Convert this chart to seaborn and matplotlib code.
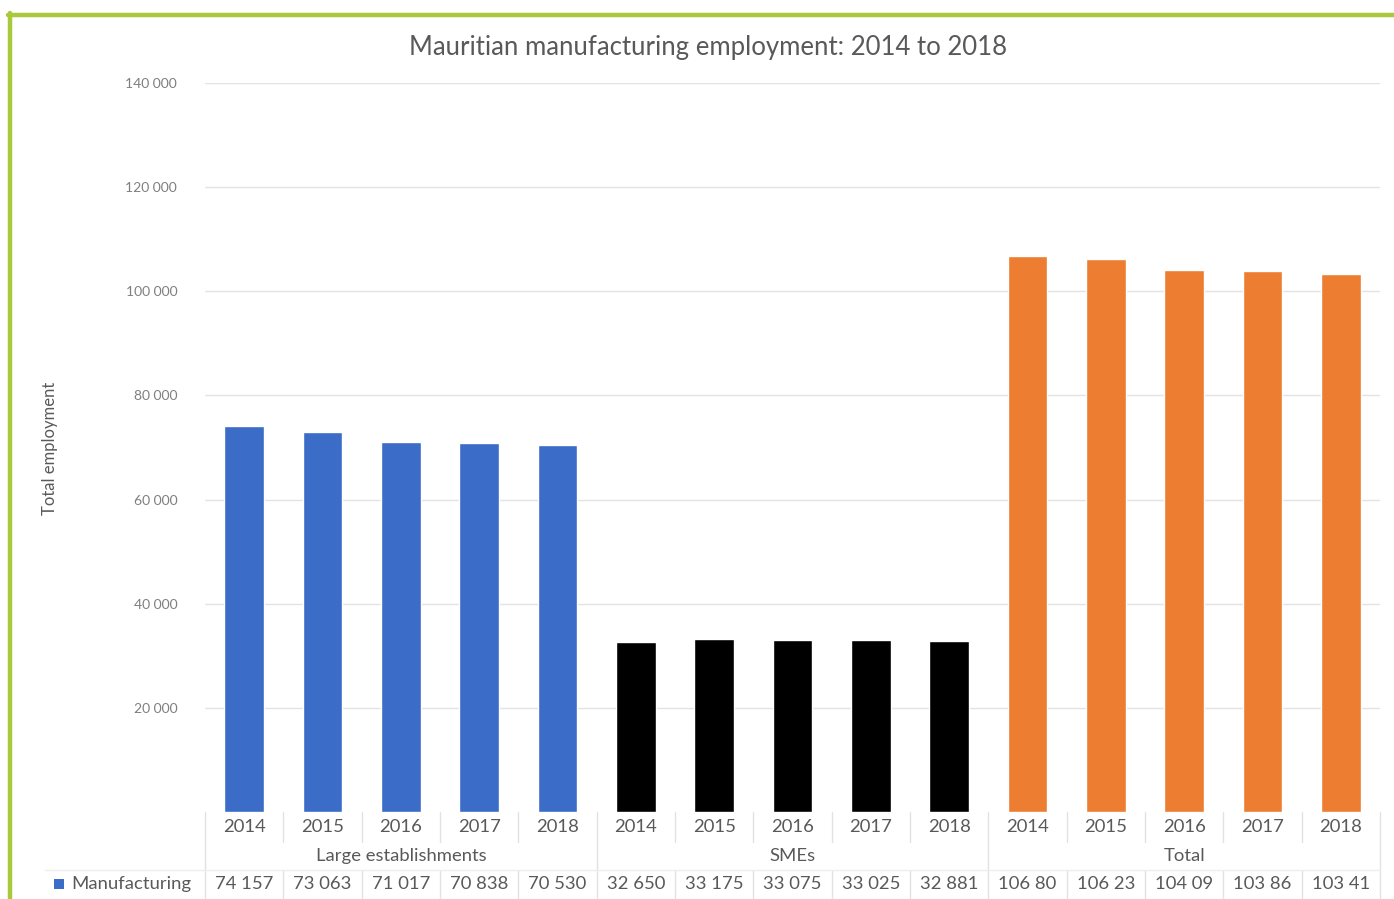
import matplotlib
matplotlib.use("Agg")
import matplotlib.pyplot as plt
import matplotlib.transforms as mtransforms
from matplotlib.lines import Line2D
from matplotlib.patches import Rectangle
import seaborn as sns
import pandas as pd

# ---------------- data ----------------
years = ["2014", "2015", "2016", "2017", "2018"]
groups = ["Large establishments", "SMEs", "Total"]
large_values = [74157, 73063, 71017, 70838, 70530]
sme_values = [32650, 33175, 33075, 33025, 32881]
total_values = [106807, 106238, 104092, 103863, 103411]
table_labels = ["74 157", "73 063", "71 017", "70 838", "70 530",
                "32 650", "33 175", "33 075", "33 025", "32 881",
                "106 80", "106 23", "104 09", "103 86", "103 41"]
series_name = "Manufacturing"
title = "Mauritian manufacturing employment: 2014 to 2018"
y_label = "Total employment"
y_ticks = [20000, 40000, 60000, 80000, 100000, 120000, 140000]
group_colors = {"Large establishments": "#3a6cc8", "SMEs": "#000000", "Total": "#ed7d31"}

rows = []
for g, vals in zip(groups, [large_values, sme_values, total_values]):
    for yr, v in zip(years, vals):
        rows.append({"key": f"{g} {yr}", "group": g, "year": yr, "value": v})
df = pd.DataFrame(rows)

# ---------------- figure ----------------
sns.set_theme(style="white")
FONT = ["Lato", "DejaVu Sans"]
plt.rcParams["font.family"] = FONT

W, H = 1394, 899
fig = plt.figure(figsize=(W / 100, H / 100), dpi=100)
fig.patch.set_facecolor("white")

ax_l, ax_r, ax_t, ax_b = 205, 1380, 83, 812
ax = fig.add_axes([ax_l / W, 1 - ax_b / H, (ax_r - ax_l) / W, (ax_b - ax_t) / H])

sns.barplot(data=df, x="key", y="value", hue="group", palette=group_colors,
            dodge=False, width=0.51, legend=False, ax=ax, saturation=1)

ax.set_xlim(-0.5, len(df) - 0.5)
ax.set_ylim(0, 140000)
ax.set_yticks(y_ticks)
ax.set_yticklabels([f"{t:,}".replace(",", " ") for t in y_ticks],
                   fontsize=10, color="#7f7f7f")
ax.tick_params(axis="y", length=0, pad=20)
ax.set_xticks([])
ax.set_xlabel("")
ax.set_ylabel("")
ax.yaxis.grid(True, color="#e3e3e3", linewidth=1)
ax.set_axisbelow(True)
for s in ax.spines.values():
    s.set_visible(False)

# ---------------- data table below ----------------
trans = mtransforms.blended_transform_factory(ax.transData, ax.transAxes)
axh = ax_b - ax_t
def ay(px):
    return (ax_b - px) / axh

grid_c = "#e2e2e2"
txt_c = "#595959"
FS = 13.3
n = len(df)
for i, row in df.iterrows():
    ax.text(i, ay(827), row["year"], transform=trans, ha="center", va="center",
            fontsize=FS, color=txt_c, clip_on=False)
    ax.text(i, ay(884), table_labels[i], transform=trans, ha="center", va="center",
            fontsize=FS, color=txt_c, clip_on=False)
for gi, g in enumerate(groups):
    ax.text(gi * 5 + 2, ay(856), g, transform=trans, ha="center", va="center",
            fontsize=FS, color=txt_c, clip_on=False)

# vertical separators
for i in range(n + 1):
    x = i - 0.5
    if i % 5 == 0:
        ax.add_line(Line2D([x, x], [ay(812), ay(899)], transform=trans, color=grid_c,
                           linewidth=1, clip_on=False))
    else:
        ax.add_line(Line2D([x, x], [ay(812), ay(842)], transform=trans, color=grid_c,
                           linewidth=1, clip_on=False))
        ax.add_line(Line2D([x, x], [ay(870), ay(899)], transform=trans, color=grid_c,
                           linewidth=1, clip_on=False))
# horizontal separator above data row
fig.add_artist(Line2D([45 / W, ax_r / W], [1 - 870 / H, 1 - 870 / H], color="#eeeeee",
                      linewidth=1))

# legend key in table
fig.add_artist(Rectangle((54 / W, 1 - 889 / H), 10 / W, 10 / H,
                         facecolor=group_colors["Large establishments"], edgecolor="none"))
fig.text(71 / W, 1 - 884 / H, series_name, ha="left", va="center",
         fontsize=FS, color=txt_c)

# ---------------- titles ----------------
fig.text(708 / W, 1 - 47 / H, title, ha="center", va="center", fontsize=18.5, color=txt_c)
fig.text(50 / W, 1 - 448 / H, y_label, ha="center", va="center", rotation=90,
         fontsize=12, color=txt_c)

# ---------------- green frame ----------------
green = "#a9c93b"
fig.add_artist(Line2D([8 / W, 1], [1 - 15 / H, 1 - 15 / H], color=green, linewidth=3.2))
fig.add_artist(Line2D([10 / W, 10 / W], [1 - 13 / H, 0], color=green, linewidth=3.2))

fig.savefig("out.png", dpi=100, facecolor="white")
